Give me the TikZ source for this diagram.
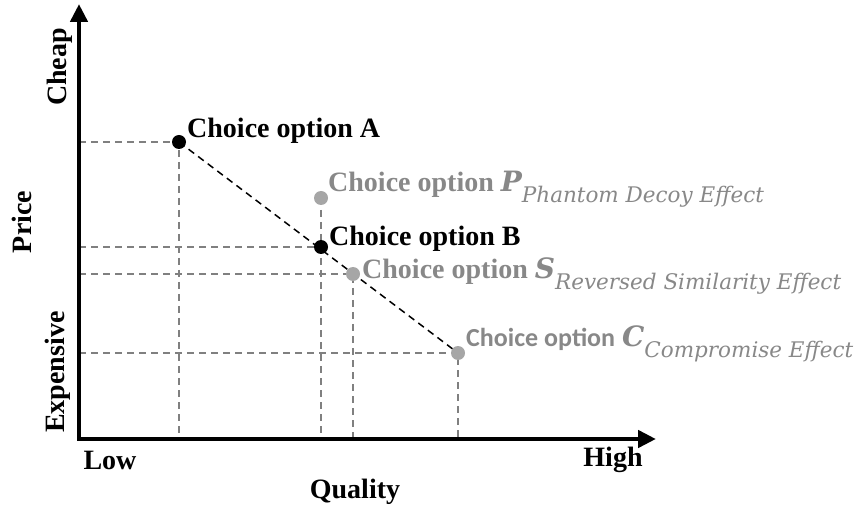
\documentclass[tikz,border=0pt]{standalone}
\usepackage{fontspec}
\setmainfont{Liberation Serif}
\newfontfamily\calibri{Carlito}
\newfontfamily\mathish{DejaVu Serif}
\usetikzlibrary{positioning, arrows.meta, calc}
\definecolor{optgray}{RGB}{136,136,136}
\definecolor{dotgray}{RGB}{166,166,166}
\definecolor{linegray}{RGB}{128,128,128}
\tikzstyle{axis} = [line width=4.5pt, {Triangle[length=18pt,width=17pt]}-{Triangle[length=18pt,width=17pt]}]
\tikzstyle{guide} = [linegray, line width=1.5pt, dash pattern=on 7pt off 5pt]
\tikzstyle{trend} = [black, line width=1.5pt, dash pattern=on 7pt off 5pt]
\tikzstyle{chosen} = [circle, fill=black, inner sep=0pt, minimum size=14pt]
\tikzstyle{decoy} = [circle, fill=dotgray, inner sep=0pt, minimum size=14pt]
\tikzstyle{lbl} = [font=\fontsize{28}{30}\selectfont\bfseries, inner sep=0pt, anchor=base west]
\tikzstyle{axlbl} = [font=\fontsize{28}{30}\selectfont\bfseries, inner sep=0pt]
\newcommand{\opt}[2]{{\mathish\bfseries\itshape #1}\raisebox{-11pt}{\fontsize{21.5}{23}\selectfont\mathish\mdseries\itshape #2}}

\begin{document}
\begin{tikzpicture}[x=1pt,y=-1pt]
        \useasboundingbox (0,0) rectangle (864,510);
        \coordinate (O) at (79,439);
        \coordinate (ytip) at (79,4);
        \coordinate (xtip) at (656,439);
        \coordinate (a) at (179,142);
        \coordinate (p) at (321,198);
        \coordinate (b) at (321,247);
        \coordinate (s) at (353,274);
        \coordinate (c) at (458,353);

        % guides to the axes
        \draw [guide] (O |- a) -| (a |- O);
        \draw [guide] (O |- b) -- (b);
        \draw [guide] (p) -- (p |- O);
        \draw [guide] (O |- s) -| (s |- O);
        \draw [guide] (O |- c) -| (c |- O);
        \draw [trend] (a) -- (c);

        \draw [axis] (ytip) |- (xtip);

        \node (A) [chosen] at (a) {};
        \node (P) [decoy] at (p) {};
        \node (B) [chosen] at (b) {};
        \node (S) [decoy] at (s) {};
        \node (C) [decoy] at (c) {};

        \node (Alab) [lbl] at (187,138) {Choice option A};
        \node (Plab) [lbl, optgray] at (328,192) {Choice option \opt{P}{Phantom Decoy Effect}};
        \node (Blab) [lbl] at (329,246) {Choice option B};
        \node (Slab) [lbl, optgray] at (362,279) {Choice option \opt{S}{Reversed Similarity Effect}};
        \node (Clab) [lbl, optgray] at (466,346) {{\calibri\fontsize{26}{28}\selectfont Choice option} \opt{C}{Compromise Effect}};

        \node (cheap) [axlbl, rotate=90] at (60,67) {Cheap};
        \node (price) [axlbl, rotate=90] at (22,222) {Price};
        \node (expensive) [axlbl, rotate=90] at (58,372) {Expensive};
        \node (low) [axlbl] at (110,460) {Low};
        \node (high) [axlbl] at (613,460) {High};
        \node (quality) [axlbl] at (355,492) {Quality};
\end{tikzpicture}
\end{document}
